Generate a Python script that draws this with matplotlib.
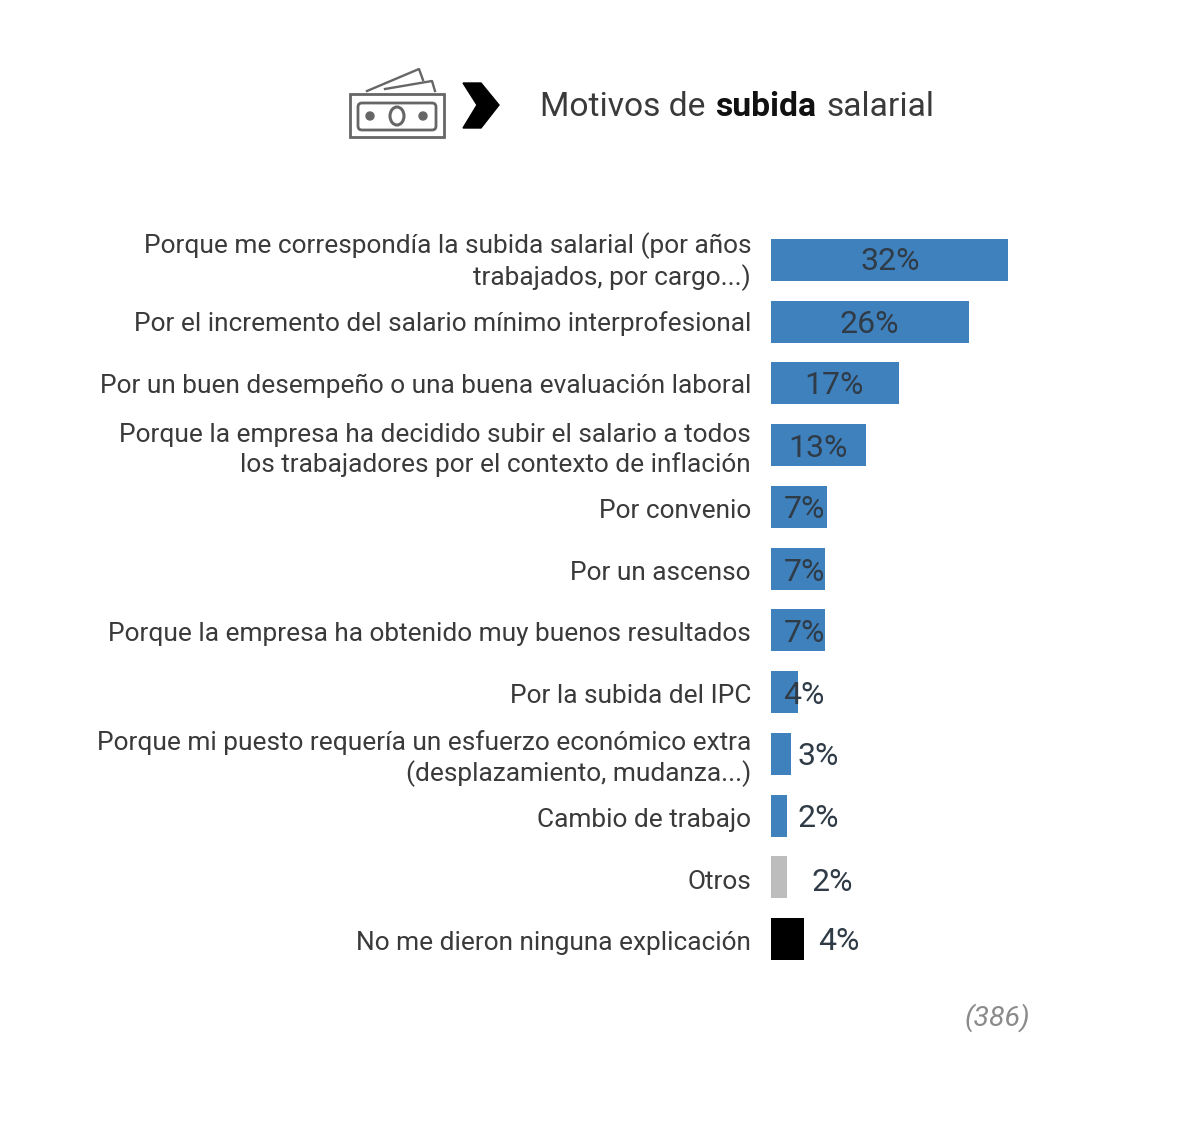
import matplotlib
matplotlib.use("Agg")
import matplotlib.pyplot as plt
from matplotlib.patches import Polygon, Rectangle, FancyBboxPatch, Ellipse
from matplotlib.transforms import ScaledTranslation

plt.rcParams['font.family'] = ['Roboto', 'DejaVu Sans']

# data
categories = [
    "Porque me correspondía la subida salarial (por años\ntrabajados, por cargo...)",
    "Por el incremento del salario mínimo interprofesional",
    "Por un buen desempeño o una buena evaluación laboral",
    "Porque la empresa ha decidido subir el salario a todos\nlos trabajadores por el contexto de inflación",
    "Por convenio",
    "Por un ascenso",
    "Porque la empresa ha obtenido muy buenos resultados",
    "Por la subida del IPC",
    "Porque mi puesto requería un esfuerzo económico extra\n(desplazamiento, mudanza...)",
    "Cambio de trabajo",
    "Otros",
    "No me dieron ninguna explicación",
]
values = [32, 26.7, 17.3, 12.8, 7.5, 7.3, 7.3, 3.7, 2.7, 2.2, 2.2, 4.5]
value_labels = ["32%", "26%", "17%", "13%", "7%", "7%", "7%", "4%", "3%", "2%", "2%", "4%"]

BLUE = "#3f81bd"
bar_colors = [BLUE] * 10 + ["#bdbdbd", "#000000"]
TEXT = "#3a3a3a"

# label centre, pixels right of the axis
label_dx = [119, 98, 63, 47, 33, 33, 33, 33, 47, 47, 61, 68]
label_dy = [2, 3, 2, 3, 3, 4, 3, 3, 3, 3, 5, 2]
# category labels sit a little off their bars
tick_dy = [-4, -1, 0, 0, 2, 2, 1, 1, -1, 2, 2, 1]

W, H = 1186, 1130
fig = plt.figure(figsize=(W / 100, H / 100), dpi=100)

# bars
ax = fig.add_axes([771 / W, 1 - 970 / H, 400 / W, 741 / H])
ax.barh(range(len(values)), values, height=0.68, color=bar_colors)
ax.set_xlim(0, 400 / 7.4)
ax.set_ylim(11.5, -0.5)
ax.set_yticks(range(len(categories)))
ax.set_yticklabels(categories, fontsize=18.9, color=TEXT, linespacing=1.24)
ax.tick_params(axis='y', length=0, pad=14.4)
ax.xaxis.set_visible(False)
for s in ax.spines.values():
    s.set_visible(False)
ax.patch.set_alpha(0)

for lab, dy in zip(ax.get_yticklabels(), tick_dy):
    lab.set_transform(lab.get_transform() + ScaledTranslation(0, -dy / 100, fig.dpi_scale_trans))

for i, lab in enumerate(value_labels):
    ax.annotate(lab, xy=(0, i), xytext=(label_dx[i] * 0.72, -label_dy[i] * 0.72),
                textcoords='offset points', ha='center', va='center',
                fontsize=23, color="#2f3b46")

# header, in pixel coordinates
hd = fig.add_axes([0, 0, 1, 1])
hd.set_xlim(0, W)
hd.set_ylim(H, 0)
hd.axis('off')
hd.patch.set_alpha(0)

t1 = hd.text(540, 107, "Motivos de", fontsize=24.2, color=TEXT, va='center')
fig.canvas.draw()
x = hd.transData.inverted().transform((t1.get_window_extent().x1 + 10, 0))[0]
t2 = hd.text(x, 107, "subida", fontsize=24.2, color="#111111", weight='bold', va='center')
x = hd.transData.inverted().transform((t2.get_window_extent().x1 + 10, 0))[0]
hd.text(x, 107, "salarial", fontsize=24.2, color=TEXT, va='center')

hd.text(1030, 1018, "(386)", fontsize=20.5, style='italic', color="#8a8a8a", ha='right', va='center')

# money icon
ic = "#666666"
hd.add_patch(Rectangle((350, 94), 94, 43, fill=False, ec=ic, lw=2))
hd.add_patch(FancyBboxPatch((358, 103), 78, 27, boxstyle="round,pad=0,rounding_size=4", fill=False, ec=ic, lw=2))
hd.add_patch(Ellipse((397, 116), 14, 18, fill=False, ec=ic, lw=2.2))
hd.add_patch(Ellipse((370, 116), 8, 8, color=ic))
hd.add_patch(Ellipse((423, 116), 8, 8, color=ic))
hd.plot([367, 419, 423], [91, 69, 80], color=ic, lw=1.7)
hd.plot([385, 432, 435], [89, 81, 91], color=ic, lw=1.7)

# chevron
hd.add_patch(Polygon([(463, 83), (481, 83), (499, 105), (481, 128), (463, 128), (477, 105)], color="#000000"))

fig.savefig("out.png", dpi=100)
